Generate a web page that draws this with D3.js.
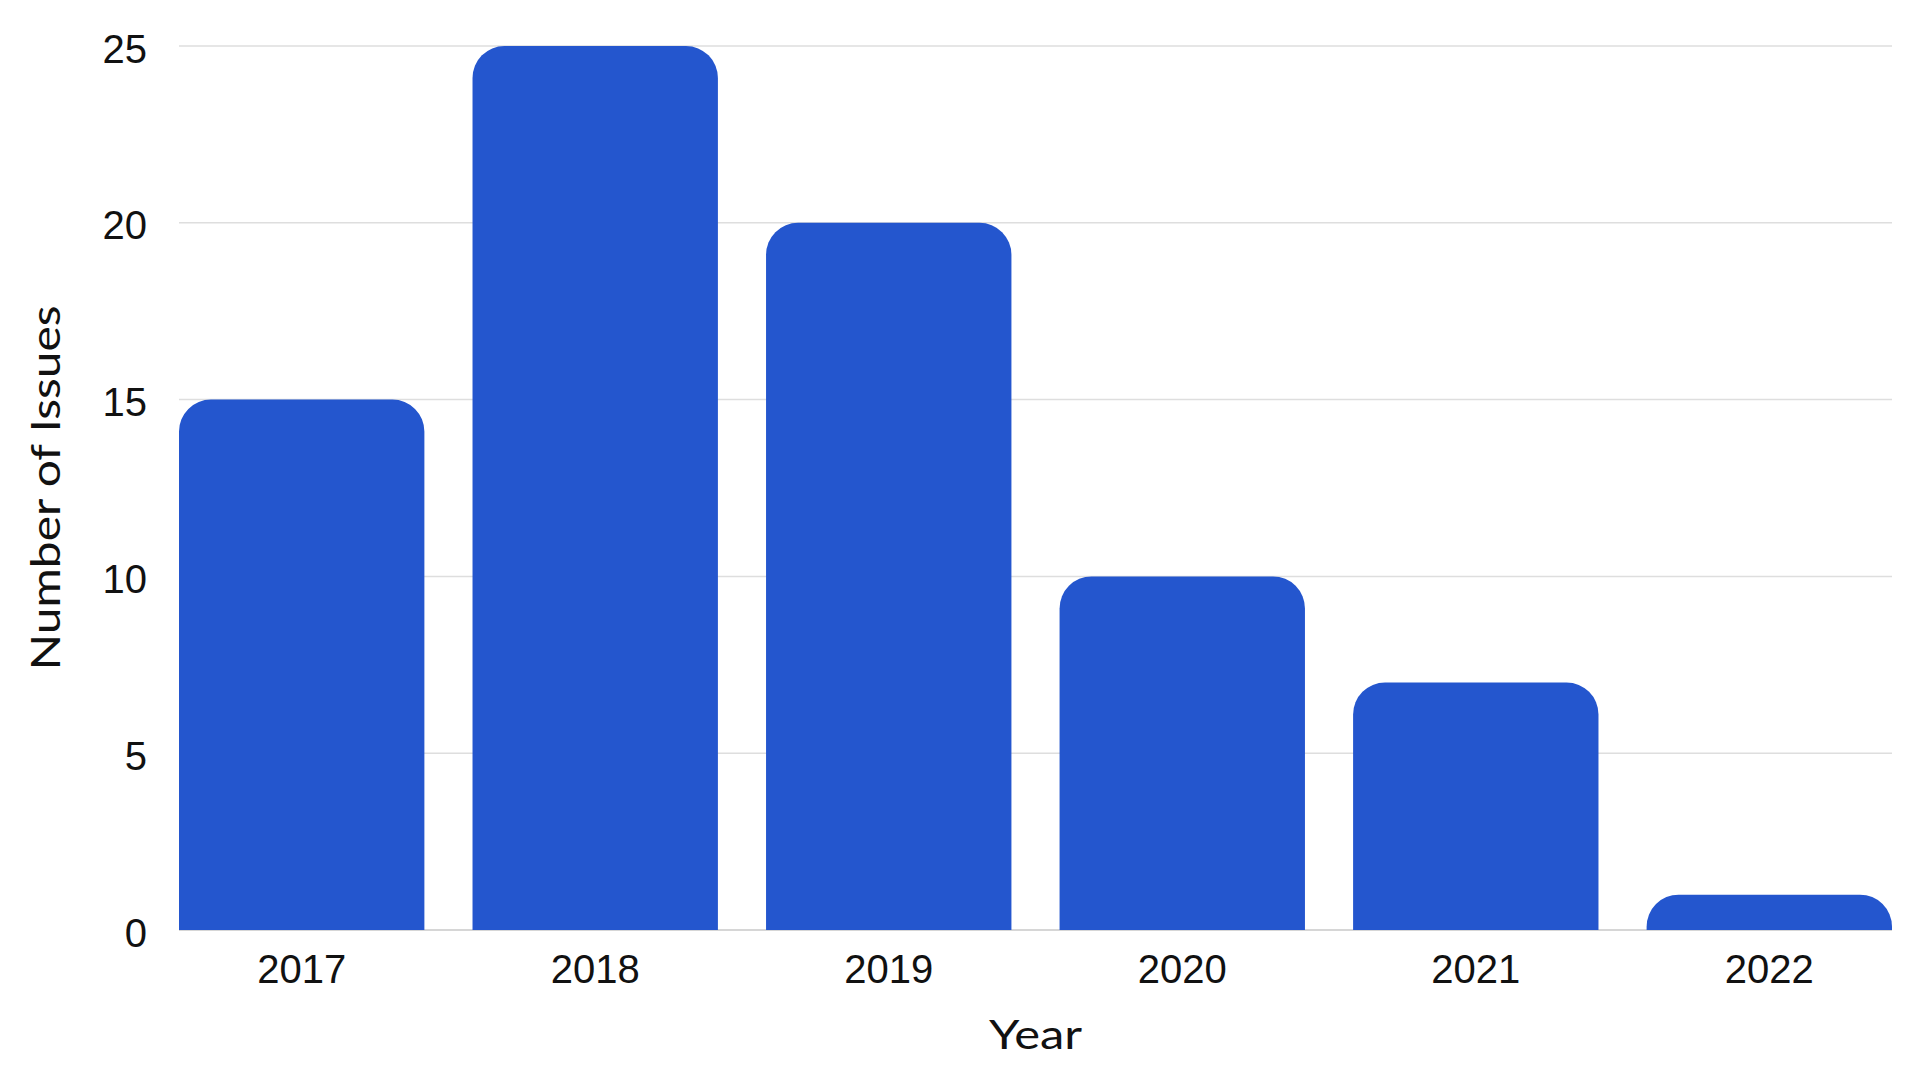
<!DOCTYPE html>
<html>
<head>
<meta charset="utf-8">
<script src="https://cdn.jsdelivr.net/npm/d3@7"></script>
<style>
  html, body { margin: 0; padding: 0; background: #fff; }
  svg { display: block; font-family: "Lato", "Open Sans", sans-serif; }
</style>
</head>
<body>
<svg width="1920" height="1080"></svg>
<script>
const years = ["2017", "2018", "2019", "2020", "2021", "2022"];
const issues = [15, 25, 20, 10, 7, 1];
const yTicks = [0, 5, 10, 15, 20, 25];

const width = 1920, height = 1080;
let margin = { top: 46, right: 28, bottom: 150, left: 179 },
    plotWidth = width - margin.left - margin.right,
    plotHeight = height - margin.top - margin.bottom;

const barColor = "#2456ce";
const radius = 32;

const svg = d3.select("svg");
const g = svg.append("g").attr("transform", `translate(${margin.left}, ${margin.top})`);

const x = d3.scaleBand().domain(years).range([0, plotWidth]).paddingInner(0.164).paddingOuter(0);
const y = d3.scaleLinear().domain([0, 25]).range([plotHeight, 0]);

//gridlines
g.selectAll("line.grid")
  .data(yTicks)
  .enter().append("line")
  .attr("class", "grid")
  .attr("x1", 0).attr("x2", plotWidth)
  .attr("y1", d => y(d)).attr("y2", d => y(d))
  .attr("stroke", d => d === 0 ? "#c8c8c8" : "#dedede")
  .attr("stroke-width", 1.5);

//rounded-top bars
function barPath(d, i) {
  const x0 = x(years[i]), w = x.bandwidth();
  const yTop = y(d), yBot = y(0);
  const r = Math.min(radius, yBot - yTop, w / 2);
  return `M${x0},${yBot}` +
    `L${x0},${yTop + r}` +
    `A${r},${r} 0 0 1 ${x0 + r},${yTop}` +
    `L${x0 + w - r},${yTop}` +
    `A${r},${r} 0 0 1 ${x0 + w},${yTop + r}` +
    `L${x0 + w},${yBot}Z`;
}

g.selectAll("path.bar")
  .data(issues)
  .enter().append("path")
  .attr("class", "bar")
  .attr("d", barPath)
  .attr("fill", barColor);

//y axis
const yAxis = g.append("g").call(d3.axisLeft(y).tickValues(yTicks).tickSize(0).tickPadding(32));
yAxis.select(".domain").remove();
yAxis.selectAll("text").attr("font-size", "40px").attr("fill", "#111").attr("dy", "0.4em");

//x axis
const xAxis = g.append("g").attr("transform", `translate(0, ${plotHeight})`)
  .call(d3.axisBottom(x).tickSize(0).tickPadding(25));
xAxis.select(".domain").remove();
xAxis.selectAll("text").attr("font-size", "40px").attr("fill", "#111");

//axis titles
g.append("text")
  .attr("x", plotWidth / 2).attr("y", plotHeight + 119)
  .attr("text-anchor", "middle")
  .attr("font-size", "40px").attr("fill", "#111")
  .attr("textLength", 93).attr("lengthAdjust", "spacingAndGlyphs")
  .text("Year");

g.append("text")
  .attr("transform", `translate(${60 - margin.left}, ${plotHeight / 2}) rotate(-90)`)
  .attr("text-anchor", "middle")
  .attr("font-size", "40px").attr("fill", "#111")
  .attr("textLength", 365).attr("lengthAdjust", "spacingAndGlyphs")
  .text("Number of Issues");
</script>
</body>
</html>
